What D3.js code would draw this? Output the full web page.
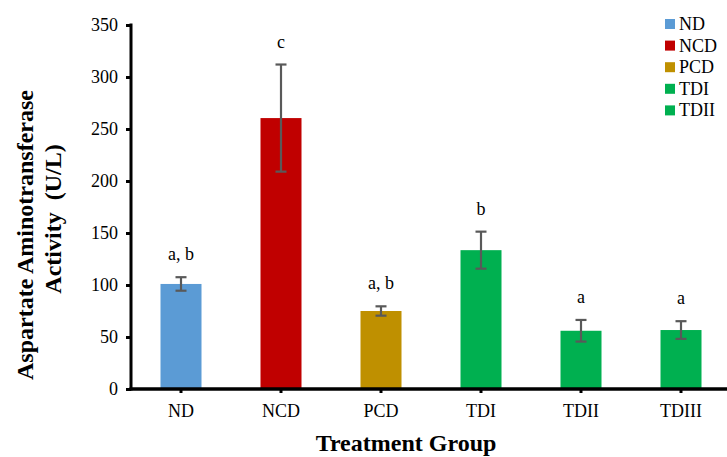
<!DOCTYPE html>
<html><head><meta charset="utf-8">
<script src="https://cdn.jsdelivr.net/npm/d3@7/dist/d3.min.js"></script>
<style>body{margin:0;background:#fff} text{font-family:"Liberation Serif","Times New Roman",Tinos,"DejaVu Serif",serif !important}</style>
</head><body><svg id="c" width="727" height="457"></svg>
<script>
const categories = ["ND","NCD","PCD","TDI","TDII","TDIII"];
const values = [101, 260.5, 75, 133.5, 56, 56.7];
const errors = [6.5, 51.5, 4.5, 17.8, 10.4, 8.5];
const letters = ["a, b","c","a, b","b","a","a"];
const colors = ["#5B9BD5","#C00000","#BF9000","#00B050","#00B050","#00B050"];
const legendLabels = ["ND","NCD","PCD","TDI","TDII"];
const legendColors = ["#5B9BD5","#C00000","#BF9000","#00B050","#00B050"];
const yTicks = [0,50,100,150,200,250,300,350];

const svg = d3.select("#c");
const x = d3.scaleBand().domain(categories).range([131,731]).paddingInner(0.59).paddingOuter(0.295);
const y = d3.scaleLinear().domain([0,350]).range([389,25]);

svg.selectAll("rect.bar").data(values).join("rect")
  .attr("x",(d,i)=>x(categories[i])).attr("width",x.bandwidth())
  .attr("y",d=>y(d)).attr("height",d=>y(0)-y(d)).attr("fill",(d,i)=>colors[i]);

const eg = svg.append("g").attr("stroke","#595959").attr("stroke-width",2.2);
values.forEach((v,i)=>{
  const cx = x(categories[i])+x.bandwidth()/2;
  eg.append("line").attr("x1",cx).attr("x2",cx).attr("y1",y(v+errors[i])).attr("y2",y(v-errors[i]));
  [v+errors[i], v-errors[i]].forEach(e=>eg.append("line").attr("x1",cx-5.5).attr("x2",cx+5.5).attr("y1",y(e)).attr("y2",y(e)));
  svg.append("text").attr("x",cx).attr("y",y(v+errors[i])-17).attr("text-anchor","middle")
    .attr("font-size",18).text(letters[i]);
});

const yAxis = d3.axisLeft(y).tickValues(yTicks).tickSize(5).tickSizeOuter(0).tickPadding(8);
const gy = svg.append("g").attr("transform","translate(131,0)").call(yAxis);
gy.select(".domain").attr("stroke","#000").attr("stroke-width",3).attr("d","M0,23.5V390.5");
gy.selectAll(".tick line").attr("stroke-width",3);
gy.selectAll(".tick text").attr("font-size",18).attr("fill","#000");

const xAxis = d3.axisBottom(x).tickSize(4).tickSizeOuter(0).tickPadding(14);
const gx = svg.append("g").attr("transform","translate(0,389)").call(xAxis);
gx.select(".domain").attr("stroke","#000").attr("stroke-width",3.5).attr("d","M129.5,0H727");
gx.selectAll(".tick line").attr("stroke-width",3);
gx.selectAll(".tick text").attr("font-size",18).attr("fill","#000").attr("dy",null).attr("y",28);

svg.append("text").attr("x",406).attr("y",451).attr("text-anchor","middle")
  .attr("font-size",24).attr("font-weight","bold").text("Treatment Group");
const yt = svg.append("text").attr("transform","translate(0,235) rotate(-90)")
  .attr("text-anchor","middle").attr("font-size",24).attr("font-weight","bold");
yt.append("tspan").attr("x",0).attr("y",33).text("Aspartate Aminotransferase");
yt.append("tspan").attr("x",16).attr("y",61).attr("xml:space","preserve").text("Activity  (U/L)");

const lg = svg.append("g");
legendLabels.forEach((l,i)=>{
  const cy = 24 + i*21.6;
  lg.append("rect").attr("x",665).attr("y",cy-5).attr("width",10).attr("height",10).attr("fill",legendColors[i]);
  lg.append("text").attr("x",679).attr("y",cy+6).attr("font-size",18).text(l);
});
</script></body></html>
